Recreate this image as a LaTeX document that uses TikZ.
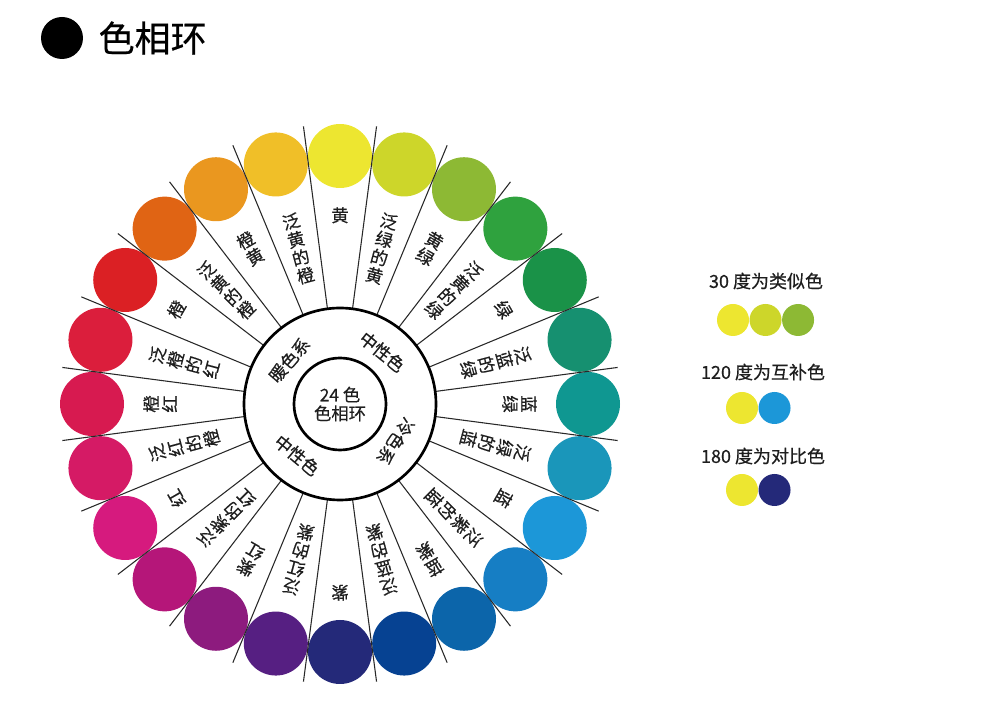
\documentclass[tikz,border=0pt]{standalone}
\usepackage{fontspec}
\setmainfont{Noto Sans CJK SC}[FakeBold=0.5]
\usetikzlibrary{positioning}

\begin{document}
\begin{tikzpicture}[x=0.75pt, y=0.75pt,
    huedot/.style={circle, inner sep=0pt, minimum size=48pt},
    keydot/.style={circle, inner sep=0pt, minimum size=24pt},
    spoke/.style={line width=0.8pt, draw=linegray},
    ring/.style={line width=2pt, draw=black},
    huename/.style={align=center, inner sep=0pt, text=textgray, font=\fontsize{13}{14}\selectfont},
    keytext/.style={text=textgray, font=\fontsize{13.5}{16}\selectfont}]
  % Define colors
  \definecolor{textgray}{RGB}{30,30,30}
  \definecolor{linegray}{RGB}{40,40,40}
  \definecolor{wyellow}{RGB}{237,230,48}
  \definecolor{wlime}{RGB}{205,214,42}
  \definecolor{wyelgreen}{RGB}{141,185,52}
  \definecolor{wgrass}{RGB}{47,162,62}
  \definecolor{wgreen}{RGB}{26,146,72}
  \definecolor{wsea}{RGB}{22,144,112}
  \definecolor{wteal}{RGB}{15,151,145}
  \definecolor{wcyan}{RGB}{26,150,186}
  \definecolor{wsky}{RGB}{28,151,216}
  \definecolor{wazure}{RGB}{22,126,196}
  \definecolor{wcobalt}{RGB}{12,101,170}
  \definecolor{wroyal}{RGB}{6,66,146}
  \definecolor{wnavy}{RGB}{36,41,121}
  \definecolor{wviolet}{RGB}{86,31,130}
  \definecolor{wplum}{RGB}{141,27,126}
  \definecolor{wmagenta}{RGB}{181,22,121}
  \definecolor{wpink}{RGB}{214,26,126}
  \definecolor{wrose}{RGB}{213,26,101}
  \definecolor{wcrimson}{RGB}{215,26,80}
  \definecolor{wscarlet}{RGB}{219,30,60}
  \definecolor{wred}{RGB}{219,32,36}
  \definecolor{wvermil}{RGB}{224,100,20}
  \definecolor{wamber}{RGB}{234,151,31}
  \definecolor{wgold}{RGB}{240,191,40}

  \useasboundingbox (0,0) rectangle (1000,728);

  % Title
  \node[circle, fill=black, inner sep=0pt, minimum size=31.5pt] (bullet) at (62,690) {};
  \node[right=8pt of bullet, font=\fontsize{27}{32}\selectfont] (title) {色相环};

  % Colour wheel
  \begin{scope}[shift={(340,324)}]
    % Hue circles and their names, clockwise from the top
    \foreach \c/\t [count=\i] in {wyellow/黄, wlime/泛\\绿\\的\\黄, wyelgreen/黄\\绿,
        wgrass/泛\\黄\\的\\绿, wgreen/绿, wsea/泛\\蓝\\的\\绿, wteal/蓝\\绿,
        wcyan/泛\\绿\\的\\蓝, wsky/蓝, wazure/泛\\紫\\的\\蓝, wcobalt/蓝\\紫,
        wroyal/泛\\蓝\\的\\紫, wnavy/紫, wviolet/泛\\红\\的\\紫, wplum/紫\\红,
        wmagenta/泛\\紫\\的\\红, wpink/红, wrose/泛\\红\\的\\橙, wcrimson/橙\\红,
        wscarlet/泛\\橙\\的\\红, wred/橙, wvermil/泛\\黄\\的\\橙, wamber/橙\\黄,
        wgold/泛\\黄\\的\\橙} {
      \pgfmathsetmacro\a{105-15*\i}
      \node[huedot, fill=\c] (hue\i) at (\a:248) {};
      \node[huename, rotate=\a-90, anchor=north] (name\i) at (\a:197) {\t};
    }

    % Spokes between the circles
    \foreach \a in {7.5, 22.5, ..., 352.5} {
      \draw[spoke] (\a:96) -- (\a:280);
    }

    % Rings
    \draw[ring] (0,0) circle (96);
    \draw[ring] (0,0) circle (46);

    % Ring labels
    \node[huename, rotate=49] (warm) at (139:67) {暖色系};
    \node[huename, rotate=-39] (neutralup) at (51:67) {中性色};
    \node[huename, rotate=-124] (cool) at (-34:67) {冷色系};
    \node[huename, rotate=-40] (neutraldown) at (-130:67) {中性色};

    % Centre
    \node[huename] (core) at (0,0) {24 色\\色相环};
  \end{scope}

  % Legend
  \node[keytext] (similar) at (766,447) {30 度为类似色};
  \node[keydot, fill=wyellow] (sim1) at (733,408) {};
  \node[keydot, fill=wlime, right=0pt of sim1] (sim2) {};
  \node[keydot, fill=wyelgreen, right=0pt of sim2] (sim3) {};

  \node[keytext] (complement) at (763,356) {120 度为互补色};
  \node[keydot, fill=wyellow] (com1) at (742,320) {};
  \node[keydot, fill=wsky, right=0pt of com1] (com2) {};

  \node[keytext] (contrast) at (763,272) {180 度为对比色};
  \node[keydot, fill=wyellow] (con1) at (742,238) {};
  \node[keydot, fill=wnavy, right=0pt of con1] (con2) {};
\end{tikzpicture}
\end{document}
